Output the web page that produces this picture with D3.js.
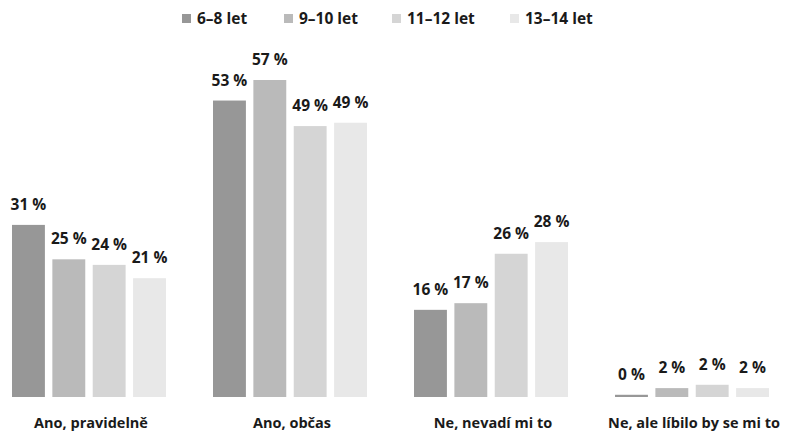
<!DOCTYPE html>
<html><head><meta charset="utf-8">
<script src="https://cdn.jsdelivr.net/npm/d3@7"></script>
<style>body{margin:0;background:#fff}svg{display:block}text{font-family:"Open Sans",sans-serif;font-weight:700;fill:#1a1a1a}</style>
</head><body>
<svg id="c" width="790" height="432"></svg>
<script>
const categories = ["Ano, pravidelně","Ano, občas","Ne, nevadí mi to","Ne, ale líbilo by se mi to"];
const seriesNames = ["6–8 let","9–10 let","11–12 let","13–14 let"];
const s1 = [31.0, 53.4, 15.7, 0.4];
const s2 = [24.8, 57.1, 16.9, 1.6];
const s3 = [23.8, 48.8, 25.8, 2.2];
const s4 = [21.4, 49.4, 27.9, 1.6];
const colors = ["#979797","#bababa","#d5d5d5","#e8e8e8"];
const series = [s1,s2,s3,s4];

const svg = d3.select("#c");
const x0 = d3.scaleBand().domain(categories).range([12,769]).paddingInner(0.234).paddingOuter(0);
const x1 = d3.scaleBand().domain(seriesNames).range([0,x0.bandwidth()]).paddingInner(0.185).paddingOuter(0);
const y = d3.scaleLinear().domain([0,57.1]).range([397,80]);

const g = svg.selectAll("g.grp").data(categories).join("g").attr("class","grp")
  .attr("transform", d=>`translate(${x0(d)},0)`);
g.each(function(cat, ci){
  const gg = d3.select(this);
  seriesNames.forEach((sn, si)=>{
    const v = series[si][ci];
    gg.append("rect").attr("x",x1(sn)).attr("y",y(v)).attr("width",x1.bandwidth())
      .attr("height",y(0)-y(v)).attr("fill",colors[si]);
    gg.append("text").attr("x",x1(sn)+x1.bandwidth()/2).attr("y",y(v)-15)
      .attr("text-anchor","middle").style("font-size","15.5px").text(Math.round(v)+" %");
  });
  gg.append("text").attr("x",x0.bandwidth()/2+2).attr("y",428).attr("text-anchor","middle")
    .style("font-size","14.5px").text(cat);
});

const legX = [182,284,392,510];
const lg = svg.selectAll("g.leg").data(seriesNames).join("g").attr("class","leg")
  .attr("transform",(d,i)=>`translate(${legX[i]},14)`);
lg.append("rect").attr("width",9).attr("height",9).attr("fill",(d,i)=>colors[i]);
lg.append("text").attr("x",15).attr("y",10).style("font-size","15.5px").text(d=>d);
</script>
</body></html>
